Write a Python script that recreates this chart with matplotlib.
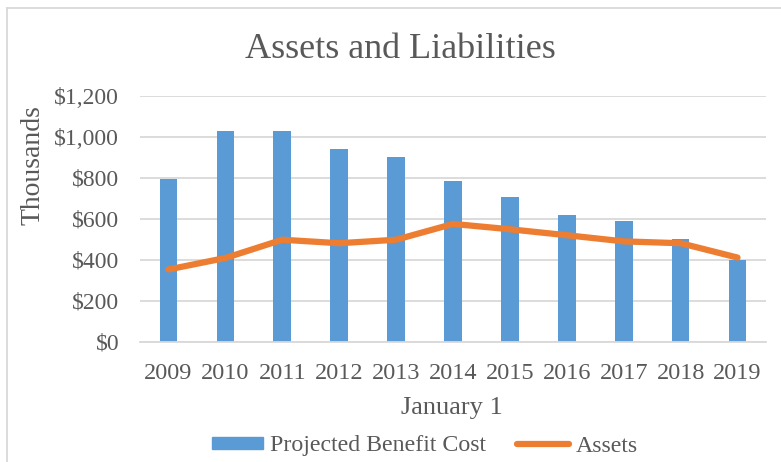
import matplotlib
matplotlib.use("Agg")
import matplotlib.pyplot as plt
from matplotlib.patches import Rectangle
from matplotlib.lines import Line2D
from matplotlib.ticker import FuncFormatter, MultipleLocator

years = ["2009", "2010", "2011", "2012", "2013", "2014", "2015", "2016", "2017", "2018", "2019"]
pbc = [795, 1027, 1027, 940, 902, 785, 707, 618, 590, 501, 396]
assets = [352, 408, 497, 480, 497, 574, 548, 519, 489, 480, 410]

plt.rcParams['font.family'] = ['Liberation Serif', 'DejaVu Serif']
txt = '#595959'
blue = '#5B9BD5'
orange = '#ED7D31'
W, H = 781, 462

fig = plt.figure(figsize=(W/100, H/100), dpi=100)
ax = fig.add_axes([140/W, 1-341.7/H, 626/W, 246.2/H])

x = list(range(len(years)))
ax.bar(x, pbc, width=0.31, color=blue, zorder=2, label='Projected Benefit Cost')
ax.plot(x, assets, color=orange, lw=4.5, solid_capstyle='round', solid_joinstyle='round', zorder=3, label='Assets')

ax.set_xlim(-0.5, len(years)-0.5)
ax.set_ylim(0, 1200)
ax.yaxis.set_major_locator(MultipleLocator(200))
ax.yaxis.set_major_formatter(FuncFormatter(lambda v, p: f"${int(v):,}"))
ax.set_xticks(x)
ax.set_xticklabels(years)
ax.grid(axis='y', color='#D9D9D9', lw=1.3, zorder=0)
for s in ['top', 'right', 'left']:
    ax.spines[s].set_visible(False)
ax.spines['bottom'].set_color('#D9D9D9')
ax.spines['bottom'].set_linewidth(1.3)
ax.tick_params(axis='both', length=0, labelsize=17.5, colors=txt)
ax.tick_params(axis='x', pad=15)
ax.tick_params(axis='y', pad=15, labelsize=17)

fig.text(33/W, 1-165/H, 'Thousands', rotation=90, ha='center', va='center', fontsize=20, color=txt)
fig.text(452/W, 1-408/H, 'January 1', ha='center', va='center', fontsize=19, color=txt)
fig.text(400/W, 1-50/H, 'Assets and Liabilities', ha='center', va='center', fontsize=26, color=txt)

handles = [Rectangle((0, 0), 1, 1, color=blue), Line2D([], [], color=orange, lw=4.5, solid_capstyle='round')]
fig.legend(handles, ['Projected Benefit Cost', 'Assets'], loc='center', bbox_to_anchor=(425/W, 1-446/H),
           ncol=2, frameon=False, fontsize=17.2, labelcolor=txt, handlelength=2.15, handleheight=0.45,
           columnspacing=1.3, handletextpad=0.3, borderpad=0, borderaxespad=0)

fig.add_artist(Line2D([7.5/W, 7.5/W], [0, 1-7.5/H], transform=fig.transFigure, color='#D9D9D9', lw=1.3))
fig.add_artist(Line2D([7.5/W, 1], [1-7.5/H, 1-7.5/H], transform=fig.transFigure, color='#D9D9D9', lw=1.3))

fig.savefig('out.png', dpi=100)
